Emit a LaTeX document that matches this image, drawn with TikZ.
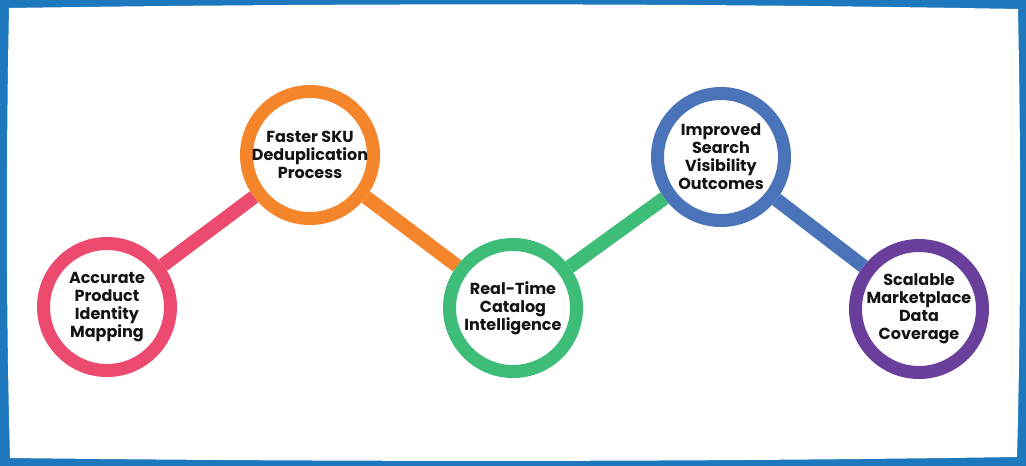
\documentclass[tikz,border=0pt]{standalone}
\usepackage{fontspec}
\setmainfont{Poppins}
\usepackage{xcolor}

\definecolor{frameblue}{HTML}{1D78BE}
\definecolor{pinkc}{HTML}{EC4A6E}
\definecolor{orangec}{HTML}{F4852A}
\definecolor{greenc}{HTML}{3DBD78}
\definecolor{bluec}{HTML}{4B73B9}
\definecolor{purplec}{HTML}{6A3F9C}

\tikzset{
  stage/.style={circle, draw=#1, line width=13pt, fill=white, minimum size=127pt,
    inner sep=0pt, align=center, text=black!92,
    font=\bfseries\fontsize{16}{18}\selectfont},
  link/.style={draw=#1, line width=14pt}
}

\begin{document}
\begin{tikzpicture}[x=1pt,y=-1pt]
\useasboundingbox (0,0) rectangle (1026,466);
% frame
\fill[frameblue] (0,0) rectangle (1026,466);
\fill[white] (9,8) .. controls (340,3) and (690,3) .. (1018,9)
  .. controls (1021,160) and (1021,310) .. (1017,457)
  .. controls (690,462) and (340,462) .. (10,458)
  .. controls (6,310) and (6,160) .. cycle;

\node[stage=pinkc] (accurate) at (107,307) {Accurate\\Product\\Identity\\Mapping};
\node[stage=orangec] (faster) at (310,155) {Faster SKU\\Deduplication\\Process};
\node[stage=greenc] (realtime) at (513,308) {Real-Time\\Catalog\\Intelligence};
\node[stage=bluec] (improved) at (721,157) {Improved\\Search\\Visibility\\Outcomes};
\node[stage=purplec] (scalable) at (919,309) {Scalable\\Marketplace\\Data\\Coverage};

\draw[link=pinkc] (accurate) -- (faster);
\draw[link=orangec] (faster) -- (realtime);
\draw[link=greenc] (realtime) -- (improved);
\draw[link=bluec] (improved) -- (scalable);
\end{tikzpicture}
\end{document}
